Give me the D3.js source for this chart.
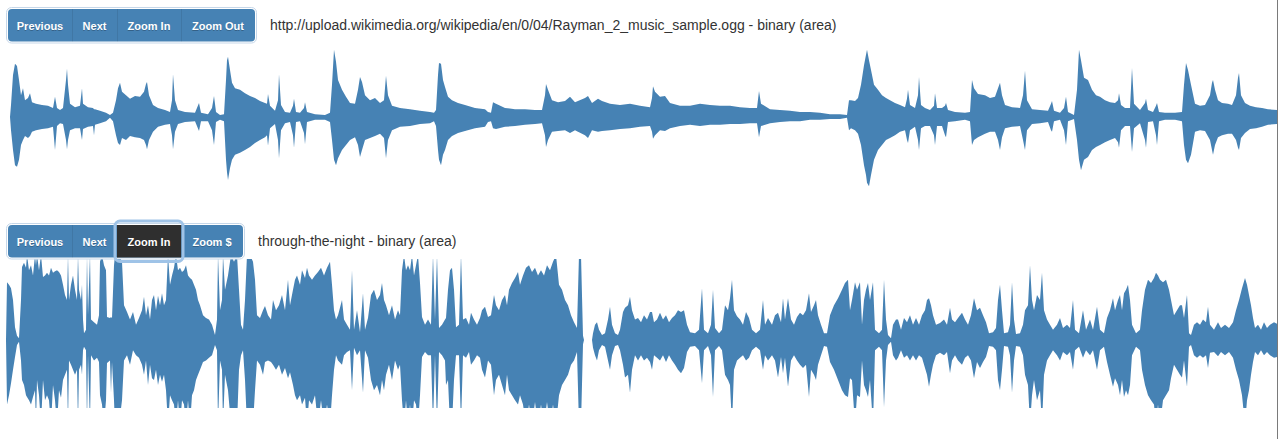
<!DOCTYPE html>
<html><head><meta charset="utf-8">
<script src="https://cdn.jsdelivr.net/npm/d3@7"></script>
<style>
html,body{margin:0;padding:0;background:#fff;overflow:hidden}
svg{display:block}
text{font-family:"Liberation Sans",Arial,Helvetica,sans-serif}
</style></head><body>
<svg id="chart" width="1278" height="439"></svg>
<script>
// ---------- DATA ----------
const trackTitles = [
  "http://upload.wikimedia.org/wikipedia/en/0/04/Rayman_2_music_sample.ogg - binary (area)",
  "through-the-night - binary (area)"
];
const buttonsTop = ["Previous", "Next", "Zoom In", "Zoom Out"];
const buttonsBottom = ["Previous", "Next", "Zoom In", "Zoom $"];
const activeBottomButton = "Zoom In";

// [sample block, positive peak, negative peak magnitude] (amplitude, full scale = 1)
const topTrackPeaks = [
[0,0,0],[1,.17,.19],[3,.60,.47],[5,.76,.69],[7,.73,.71],[9,.53,.61],[11,.31,.40],[13,.41,.33],[15,.24,.27],[18,.27,.30],
[20,.34,.27],[22,.21,.21],[26,.19,.19],[32,.17,.17],[38,.16,.16],[43,.13,.14],[45,.29,.47],[47,.13,.13],[50,.10,.09],[53,.13,.10],
[56,.53,.33],[57,.69,.46],[58,.46,.33],[60,.19,.19],[65,.14,.16],[70,.16,.16],[72,.41,.33],[73,.19,.17],[78,.14,.14],[83,.13,.13],
[84,.11,.26],[85,.11,.11],[90,.09,.09],[96,.06,.06],[100,.03,.01],[103,.06,.06],[106,.24,.26],[108,.41,.37],[110,.49,.40],[112,.36,.30],
[116,.31,.33],[120,.26,.27],[125,.30,.29],[130,.29,.30],[134,.36,.33],[136,.47,.40],[137,.50,.46],[139,.31,.33],[143,.17,.21],[148,.13,.14],
[155,.10,.11],[160,.07,.10],[162,.24,.26],[163,.61,.46],[165,.24,.21],[168,.10,.10],[175,.07,.07],[185,.06,.06],[189,.20,.20],[191,.06,.06],
[198,.04,.06],[202,.13,.19],[204,.30,.40],[206,.07,.07],[210,.03,.04],[214,.04,.06],[216,.53,.61],[217,.81,.79],[218,.86,.90],[220,.67,.73],
[222,.49,.61],[225,.41,.54],[230,.39,.51],[235,.34,.47],[240,.30,.43],[245,.27,.37],[250,.23,.33],[255,.20,.29],[257,.19,.26],[258,.33,.41],
[260,.16,.16],[265,.09,.10],[268,.24,.33],[269,.61,.59],[271,.17,.19],[275,.07,.09],[280,.06,.07],[283,.16,.26],[284,.26,.44],[286,.07,.07],
[290,.06,.06],[294,.13,.23],[295,.21,.39],[297,.07,.07],[305,.04,.04],[315,.03,.04],[320,.06,.07],[322,.46,.33],[324,.96,.61],[326,.79,.69],
[328,.53,.59],[332,.39,.47],[336,.29,.40],[340,.20,.33],[345,.19,.29],[348,.39,.40],[350,.57,.57],[352,.50,.47],[355,.31,.33],[360,.24,.30],
[365,.27,.27],[370,.20,.24],[374,.24,.30],[376,.59,.59],[378,.31,.33],[382,.16,.19],[390,.13,.14],[400,.11,.13],[410,.09,.10],[420,.07,.09],
[424,.06,.06],[426,.10,.13],[428,.60,.47],[429,.77,.61],[431,.76,.69],[433,.53,.54],[435,.43,.47],[438,.29,.33],[442,.24,.27],[448,.20,.23],
[455,.17,.20],[465,.13,.16],[475,.11,.14],[478,.07,.07],[481,.06,.06],[483,.21,.16],[486,.19,.17],[495,.13,.14],[505,.11,.13],[515,.11,.11],
[525,.10,.10],[532,.10,.09],[535,.31,.26],[536,.47,.43],[538,.39,.33],[542,.24,.21],[548,.21,.20],[555,.23,.19],[560,.29,.23],[565,.21,.19],
[575,.27,.26],[578,.30,.30],[582,.20,.19],[588,.26,.21],[592,.23,.20],[600,.19,.19],[610,.17,.17],[620,.19,.16],[630,.16,.14],[640,.14,.13],
[642,.27,.21],[643,.44,.31],[645,.36,.26],[650,.29,.19],[655,.30,.20],[660,.20,.16],[670,.16,.13],[680,.16,.11],[690,.19,.13],[700,.17,.11],
[710,.16,.11],[720,.16,.10],[730,.14,.10],[740,.13,.09],[747,.13,.09],[749,.37,.29],[751,.19,.13],[760,.11,.09],[770,.10,.07],[780,.09,.06],
[790,.07,.06],[800,.07,.04],[810,.06,.04],[820,.04,.03],[830,.04,.03],[837,.03,.01],[839,.24,.19],[841,.24,.16],[845,.23,.19],[848,.27,.24],
[851,.46,.40],[854,.74,.69],[856,.89,.83],[857,.96,.94],[859,.81,.99],[861,.67,.83],[864,.46,.61],[868,.39,.47],[872,.31,.40],[876,.27,.33],
[880,.24,.30],[885,.20,.26],[890,.17,.21],[895,.14,.19],[897,.26,.33],[898,.39,.37],[900,.17,.19],[905,.13,.14],[908,.31,.33],[909,.57,.47],
[911,.17,.16],[915,.13,.13],[920,.10,.13],[924,.16,.26],[925,.34,.40],[927,.13,.13],[932,.13,.13],[935,.16,.26],[936,.20,.29],[938,.10,.07],
[945,.07,.06],[955,.06,.04],[960,.07,.06],[962,.53,.40],[964,.41,.33],[968,.33,.29],[975,.31,.24],[980,.27,.21],[985,.29,.21],[988,.41,.33],
[990,.49,.47],[992,.31,.29],[995,.17,.16],[1002,.14,.14],[1010,.13,.13],[1013,.31,.33],[1015,.66,.47],[1017,.24,.19],[1022,.11,.10],[1030,.10,.09],
[1038,.09,.07],[1041,.19,.19],[1042,.23,.21],[1044,.09,.06],[1050,.06,.04],[1054,.13,.19],[1056,.29,.40],[1058,.07,.06],[1064,.03,.03],[1067,.39,.33],
[1069,.96,.61],[1071,.81,.76],[1074,.56,.61],[1078,.53,.57],[1082,.39,.47],[1086,.31,.43],[1090,.29,.40],[1095,.24,.36],[1100,.21,.33],[1105,.20,.30],
[1108,.24,.36],[1109,.34,.44],[1111,.17,.19],[1115,.13,.13],[1120,.13,.13],[1122,.70,.50],[1124,.19,.16],[1130,.10,.09],[1135,.20,.33],[1136,.26,.44],
[1138,.10,.07],[1143,.07,.06],[1146,.16,.26],[1147,.20,.40],[1149,.07,.06],[1155,.06,.04],[1165,.06,.04],[1172,.07,.06],[1174,.46,.40],[1176,.77,.61],
[1178,.67,.66],[1181,.46,.54],[1185,.19,.21],[1190,.16,.19],[1195,.17,.20],[1200,.31,.33],[1202,.49,.47],[1203,.53,.54],[1205,.39,.40],[1208,.24,.29],
[1212,.20,.26],[1218,.19,.24],[1222,.17,.24],[1226,.31,.33],[1228,.56,.44],[1229,.63,.47],[1231,.31,.30],[1235,.20,.23],[1240,.16,.17],[1246,.14,.16],
[1252,.13,.14],[1258,.11,.11],[1267,.10,.10]
];

const bottomTrackPeaks = [
[0,0,0],[1,.68,.76],[3,.65,.65],[5,.61,.51],[7,.47,.35],[9,.15,.20],[11,.05,.06],[13,.02,.02],[15,.47,.24],[16,.86,.47],
[18,.91,.53],[20,.85,.65],[21,1,.67],[23,.82,.71],[25,.88,.76],[27,.76,.67],[29,1,.59],[30,.88,1],[31,1,.47],[33,.82,.65],
[35,1,1],[37,.74,.47],[39,.76,.71],[41,.79,.65],[43,.76,.71],[45,.85,1],[47,.79,.53],[49,.81,.71],[51,.82,1],[53,.80,.59],
[55,.76,.68],[57,.65,.47],[59,.53,.41],[61,.47,.35],[62,1,1],[63,.47,.24],[65,.65,.29],[67,.76,.35],[69,.59,.41],[71,.47,.35],
[72,1,1],[73,.59,.35],[75,.47,.29],[76,.65,.41],[77,.24,.12],[78,.08,.08],[80,.12,.12],[81,1,1],[82,.29,.18],[84,1,1],
[85,.24,.18],[88,.21,.24],[91,.18,.21],[93,.29,.26],[94,.92,.65],[96,1,.76],[98,.88,1],[100,.82,.71],[101,.27,.27],[104,.26,.24],
[105,.27,.62],[106,.26,.26],[108,.88,.71],[109,1,1],[113,1,1],[116,.92,.71],[118,.41,.24],[121,.33,.18],[124,.24,.29],[127,.33,.12],
[130,.18,.18],[133,.26,.21],[136,.35,.29],[138,.51,.41],[140,.29,.24],[142,.41,.53],[144,.24,.29],[146,.47,.45],[148,.53,.47],[150,.35,.35],
[152,.52,.53],[154,.41,.41],[156,.55,.49],[158,.41,.41],[160,.47,.59],[162,1,1],[164,.65,.65],[166,.76,.71],[168,.85,.76],[170,1,1],
[172,.82,.71],[174,.85,1],[176,.80,.71],[178,.82,.76],[180,.88,1],[182,.76,.71],[184,.73,1],[186,.71,.65],[188,.65,.59],[190,.59,.47],
[192,.47,.41],[194,.41,.35],[197,.29,.26],[200,.26,.24],[203,.24,.21],[206,.18,.18],[209,.06,.06],[211,.24,.12],[212,1,1],[214,.35,.24],
[216,.47,.35],[217,1,1],[219,.59,.41],[222,.76,.59],[225,1,1],[228,.92,1],[231,1,1],[233,.59,.35],[235,.18,.18],[237,.12,.12],
[239,.47,.47],[241,1,1],[244,1,1],[247,.92,1],[249,.71,.59],[251,.29,.24],[254,.26,.29],[257,.35,.41],[259,.40,.26],[262,.29,.24],
[265,.24,.26],[267,.47,.29],[270,.35,.35],[273,.41,.29],[276,.53,.41],[279,.35,.33],[282,.71,.45],[284,.41,.38],[287,.59,.53],[289,.71,.65],
[291,.76,.71],[294,.65,.65],[296,.82,.76],[299,.73,.68],[301,.85,1],[303,.76,.71],[306,.71,.76],[309,.76,.65],[312,.80,1],[315,.85,.71],
[318,.76,1],[321,.85,.76],[324,.92,1],[326,.65,.65],[328,.35,.35],[330,.24,.18],[332,.29,.24],[336,.47,.29],[338,.24,.18],[341,.18,.14],
[344,.12,.12],[346,.82,.59],[348,.12,.09],[351,.35,.18],[354,.09,.12],[357,.55,.62],[359,.12,.12],[362,.26,.21],[365,.53,.47],[368,.59,.59],
[371,.47,.53],[374,.53,.65],[376,.67,.47],[378,.47,.59],[380,.41,.41],[383,.29,.29],[386,.41,.47],[389,.24,.24],[392,.35,.35],[394,.29,.29],
[396,.82,.71],[398,1,1],[400,.82,.71],[402,.88,1],[404,.82,.76],[406,1,1],[408,.76,.71],[410,.88,.76],[412,1,1],[414,.67,.65],
[416,.27,.20],[419,.18,.14],[422,.24,.18],[425,.18,.18],[427,1,1],[429,.24,.18],[431,1,1],[433,.14,.14],[436,.18,.18],[439,.24,.24],
[440,.26,.53],[442,.59,.47],[444,.82,1],[446,.85,1],[448,.59,.47],[450,.15,.18],[453,.18,.18],[455,1,1],[457,.24,.18],[460,.26,.21],
[463,.18,.14],[465,.32,.29],[468,.24,.24],[471,.18,.18],[474,.26,.21],[476,.35,.35],[479,.39,.44],[482,.27,.24],[485,.29,.29],[488,.53,.65],
[490,.41,.47],[493,.35,.41],[496,.47,.53],[499,.53,.65],[501,.41,.41],[503,.59,.59],[506,.67,.65],[509,.73,.71],[512,.80,.76],[514,.65,.65],
[517,.76,.76],[520,.85,1],[523,.88,.76],[526,.80,1],[529,.85,.73],[532,.76,1],[535,.82,.76],[538,.76,1],[541,.88,.73],[544,.82,1],
[547,.92,.76],[550,1,1],[553,.65,.65],[556,.59,.53],[559,.47,.47],[562,.41,.41],[565,.29,.29],[568,.21,.24],[571,.14,.14],[573,1,1],
[575,1,1],[577,.05,.05],[578,0,0],[586,0,0],[587,.08,.09],[589,.18,.18],[591,.21,.24],[593,.12,.12],[596,.06,.06],[599,.08,.08],
[602,.24,.24],[604,.39,.35],[606,.18,.18],[609,.08,.07],[612,.06,.06],[614,.12,.12],[617,.33,.29],[619,.38,.44],[622,.41,.41],[624,.51,.62],
[626,.35,.35],[629,.24,.18],[632,.26,.24],[635,.21,.18],[638,.29,.24],[641,.24,.21],[644,.33,.26],[646,.33,.35],[648,.21,.18],[651,.24,.21],
[654,.32,.24],[657,.24,.18],[660,.29,.26],[663,.21,.18],[666,.26,.24],[669,.29,.29],[672,.35,.35],[675,.33,.39],[678,.35,.33],[681,.18,.14],
[684,.09,.08],[689,.08,.07],[693,.12,.12],[696,.61,.51],[698,.12,.12],[702,.08,.07],[705,.18,.18],[707,.59,.67],[709,.14,.12],[713,.08,.07],
[716,.12,.12],[719,.41,.41],[722,.35,.47],[724,.49,.53],[726,.71,1],[728,.35,.35],[731,.28,.24],[734,.24,.21],[737,.18,.18],[740,.33,.24],
[743,.26,.21],[746,.12,.12],[750,.08,.08],[754,.12,.12],[757,.47,.35],[759,.18,.18],[762,.26,.24],[766,.18,.18],[769,.29,.24],[772,.32,.44],
[775,.21,.20],[777,.49,.39],[779,.24,.21],[782,.49,.55],[785,.24,.24],[788,.18,.18],[791,.27,.24],[794,.32,.29],[797,.29,.33],[800,.35,.29],
[803,.55,.67],[805,.33,.35],[808,.41,.41],[810,.47,.47],[812,.29,.29],[815,.18,.18],[818,.08,.07],[821,.08,.08],[824,.29,.26],[828,.41,.35],
[832,.49,.47],[836,.59,.59],[839,.67,.65],[842,.71,.67],[844,.35,.45],[846,.47,.47],[849,.68,1],[851,.59,.65],[854,.68,.67],[856,.18,.24],
[858,.47,.53],[860,.59,.59],[862,.67,.67],[864,.47,.47],[867,.68,1],[869,.12,.12],[873,.08,.08],[876,.12,.12],[878,.71,.79],[880,.24,.24],
[882,.06,.06],[885,.02,.02],[887,.18,.18],[890,.24,.24],[892,.24,.21],[895,.12,.12],[898,.26,.21],[901,.21,.18],[904,.29,.24],[907,.18,.18],
[910,.26,.24],[913,.18,.18],[916,.29,.21],[919,.35,.33],[921,.47,.41],[923,.49,.55],[925,.41,.41],[927,.29,.29],[930,.18,.18],[934,.20,.15],
[938,.24,.18],[941,.18,.14],[944,.38,.39],[946,.24,.24],[949,.21,.18],[952,.26,.24],[956,.32,.29],[959,.24,.21],[962,.18,.18],[965,.29,.24],
[968,.49,.45],[971,.35,.26],[974,.38,.33],[977,.29,.26],[980,.21,.20],[983,.08,.07],[987,.09,.08],[990,.14,.12],[992,.47,.47],[994,.65,.59],
[996,.35,.35],[998,.08,.07],[1002,.09,.08],[1004,.18,.18],[1006,.68,.62],[1008,.24,.24],[1010,.07,.07],[1014,.08,.08],[1017,.18,.18],[1019,.35,.41],
[1022,.41,.53],[1024,.88,1],[1026,.47,.65],[1028,.35,.47],[1031,.53,.71],[1034,.47,.59],[1036,.79,1],[1038,.35,.41],[1041,.24,.24],[1044,.18,.18],
[1047,.12,.12],[1051,.18,.18],[1054,.26,.24],[1057,.14,.14],[1061,.18,.18],[1064,.14,.14],[1067,.47,.35],[1069,.12,.12],[1073,.08,.08],[1077,.35,.21],
[1080,.12,.12],[1084,.24,.18],[1087,.12,.12],[1091,.39,.35],[1094,.12,.12],[1098,.08,.08],[1101,.26,.26],[1104,.35,.41],[1107,.49,.55],[1109,.35,.45],
[1112,.47,.53],[1114,.53,.65],[1116,.35,.47],[1118,.55,.67],[1120,.59,.59],[1122,.65,.65],[1124,.47,.53],[1126,.18,.18],[1130,.08,.08],[1134,.12,.12],
[1136,.35,.35],[1139,.59,.53],[1142,.71,.65],[1145,.67,.71],[1148,.73,.76],[1150,.79,1],[1152,.76,.76],[1154,.71,1],[1157,.68,.71],[1160,.71,.65],
[1163,.59,.59],[1165,.47,.45],[1168,.29,.29],[1171,.35,.35],[1174,.41,.41],[1176,.41,.44],[1178,.26,.24],[1181,.53,.55],[1183,.08,.08],[1185,.06,.06],
[1188,.18,.18],[1191,.21,.21],[1194,.18,.18],[1197,.24,.21],[1200,.21,.18],[1202,.39,.33],[1204,.18,.15],[1208,.12,.14],[1212,.21,.19],[1215,.14,.14],
[1219,.18,.18],[1223,.14,.14],[1227,.21,.21],[1230,.35,.35],[1233,.47,.47],[1236,.61,.65],[1239,.73,1],[1241,.65,.71],[1243,.53,.59],[1245,.41,.41],
[1247,.26,.26],[1249,.14,.14],[1252,.18,.18],[1255,.12,.12],[1258,.21,.18],[1261,.14,.14],[1264,.18,.18],[1268,.21,.21],[1271,.19,.20]
];

// ---------- DRAW ----------
const svg = d3.select("#chart");
const WAVE = "#4682b4";

function drawTrack(data, xRange, yCenter, halfHeight, clip) {
  const x = d3.scaleLinear().domain(d3.extent(data, d => d[0])).range(xRange);
  const y = d3.scaleLinear().domain([-1, 1]).range([yCenter + halfHeight, yCenter - halfHeight]);
  const area = d3.area().x(d => x(d[0])).y1(d => y(d[1])).y0(d => y(-d[2]));
  const g = svg.append("g");
  if (clip) {
    const id = "clip" + Math.round(yCenter);
    svg.append("clipPath").attr("id", id).append("rect")
      .attr("x", 0).attr("y", clip[0]).attr("width", 1278).attr("height", clip[1] - clip[0]);
    g.attr("clip-path", `url(#${id})`);
  }
  g.append("path").datum(data).attr("d", area).attr("fill", WAVE);
}

drawTrack(topTrackPeaks, [10, 1277], 117, 70, null);
drawTrack(bottomTrackPeaks, [6, 1277], 340, 85, [259, 408]);

function drawButtons(labels, edges, top, h, active, title) {
  const g = svg.append("g");
  const left = edges[0], right = edges[edges.length - 1];
  g.append("rect").attr("x", left - 1.5).attr("y", top - 1.5).attr("width", right - left + 3).attr("height", h + 3)
    .attr("rx", 5).attr("fill", "none").attr("stroke", "#c6d7e9").attr("stroke-width", 1);
  g.append("rect").attr("x", left).attr("y", top).attr("width", right - left).attr("height", h)
    .attr("rx", 4).attr("fill", WAVE);
  labels.forEach((lab, i) => {
    const x0 = edges[i], x1 = edges[i + 1];
    if (i > 0) {
      g.append("line").attr("x1", x0 + 0.5).attr("x2", x0 + 0.5).attr("y1", top).attr("y2", top + h)
        .attr("stroke", "rgba(0,0,0,0.08)");
    }
    if (lab === active) {
      g.append("rect").attr("x", x0 - 2).attr("y", top - 4).attr("width", x1 - x0 + 4).attr("height", h + 8)
        .attr("rx", 5).attr("fill", "none").attr("stroke", "#9fc3e7").attr("stroke-width", 3);
      g.append("rect").attr("x", x0).attr("y", top).attr("width", x1 - x0).attr("height", h)
        .attr("fill", "#2f2f2f");
    }
    g.append("text").attr("x", (x0 + x1) / 2).attr("y", top + 21.5).attr("text-anchor", "middle")
      .attr("font-size", 11).attr("font-weight", "bold").attr("fill", "rgba(0,0,0,0.25)").attr("dy", 0.8)
      .text(lab);
    g.append("text").attr("x", (x0 + x1) / 2).attr("y", top + 21).attr("text-anchor", "middle")
      .attr("font-size", 11).attr("font-weight", "bold").attr("fill", "#fff")
      .text(lab);
  });
  g.append("text").attr("x", right + 15).attr("y", top + 21).attr("font-size", 14).attr("fill", "#333")
    .text(title);
}

drawButtons(buttonsTop, [8, 72, 117, 181, 255], 9, 32.5, null, trackTitles[0]);
drawButtons(buttonsBottom, [8, 72, 117, 181, 243], 225, 32.5, activeBottomButton, trackTitles[1]);

svg.append("line").attr("x1", 1277.5).attr("x2", 1277.5).attr("y1", 0).attr("y2", 439)
  .attr("stroke", "#7a7a7a").attr("stroke-width", 1);
</script>
</body></html>
